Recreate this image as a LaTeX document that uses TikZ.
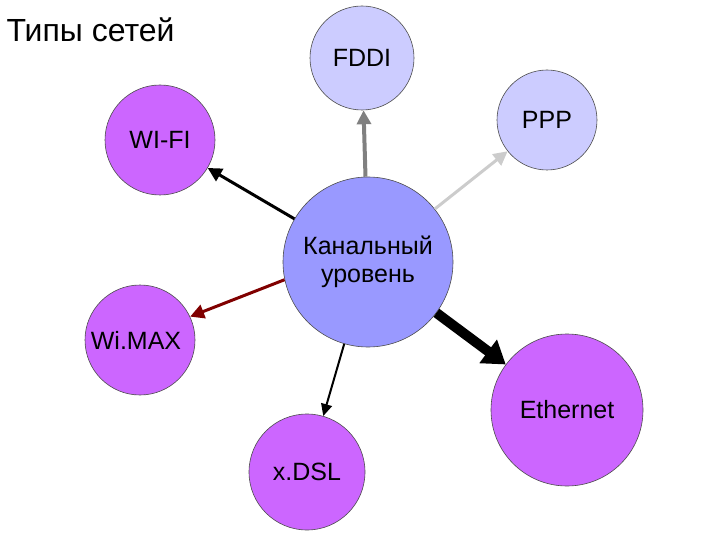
\documentclass[tikz,border=0pt]{standalone}
\usepackage{fontspec}
\setmainfont{Liberation Sans}
\usetikzlibrary{arrows.meta}
\definecolor{lightv}{HTML}{CCCCFF}
\definecolor{midv}{HTML}{9999FF}
\definecolor{purp}{HTML}{CC66FF}
\begin{document}
\begin{tikzpicture}[x=1pt,y=-1pt,
  circ/.style={circle,draw=black!70,line width=0.6pt,inner sep=0pt,font=\fontsize{25}{28}\selectfont,align=center},
  arr/.style={-{Triangle[length=14pt,width=14pt]},line width=3pt}]
\useasboundingbox (0,0) rectangle (720,540);
\node[anchor=west,font=\fontsize{32}{36}\selectfont] (title) at (3,30) {Типы сетей};
\node[circ,fill=lightv,minimum size=104pt] (fddi) at (362,58) {FDDI};
\node[circ,fill=lightv,minimum size=100pt] (ppp) at (547,120) {PPP};
\node[circ,fill=purp,minimum size=110pt] (wifi) at (160,140) {WI-FI};
\node[circ,fill=midv,minimum size=170pt] (c) at (368,262) {Канальный\\уровень};
\node[circ,fill=purp,minimum size=110pt] (wimax) at (140,340) {};
\node[font=\fontsize{25}{28}\selectfont] (wimaxt) at (136,340) {Wi.MAX};
\node[circ,fill=purp,minimum size=152pt] (eth) at (567,410) {Ethernet};
\node[circ,fill=purp,minimum size=116pt] (xdsl) at (307,472) {x.DSL};
\draw[arr,color=black!50,line width=4pt] (c) -- (fddi);
\draw[arr,color=black!20] (c) -- (ppp);
\draw[arr,color=black] (c) -- (wifi);
\draw[arr,color={rgb,255:red,128;green,0;blue,0}] (c.192) -- (wimax.25);
\draw[-{Triangle[length=22pt,width=28pt]},line width=10pt,color=black] (c) -- (eth);
\draw[arr,line width=2pt,-{Triangle[length=12pt,width=11pt]}] (c) -- (xdsl);
\end{tikzpicture}
\end{document}
